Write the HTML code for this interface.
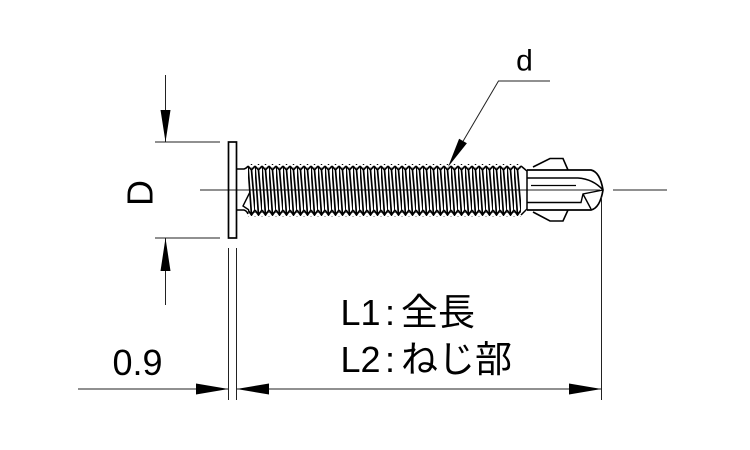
<!DOCTYPE html>
<html>
<head>
<meta charset="utf-8">
<style>
  html, body { margin: 0; padding: 0; background: #fff; }
  body { width: 750px; height: 450px; overflow: hidden; }
  svg { display: block; }
  .lat { font-family: "Liberation Sans", Arial, sans-serif; fill: #000; }
  .cjk { font-family: "Liberation Sans", "Noto Sans CJK JP", sans-serif; fill: #000; }
</style>
</head>
<body>
<svg width="750" height="450" viewBox="0 0 750 450" xmlns="http://www.w3.org/2000/svg">
  <defs>
    <pattern id="thr" patternUnits="userSpaceOnUse" x="248" y="165" width="7" height="51">
      <path d="M0 1 L3.5 5 L7 1 M0 45 L3.5 50 L7 45 M0 1 L3.5 50 M3.5 5 L7 45"
            stroke="#000" stroke-width="1.7" fill="none"/>
    </pattern>
  </defs>
  <rect width="750" height="450" fill="#fff"/>

  <!-- centerlines -->
  <line x1="200" y1="190" x2="600" y2="190" stroke="#222" stroke-width="0.9"/>
  <line x1="613" y1="190" x2="667" y2="190" stroke="#222" stroke-width="0.9"/>

  <!-- D dimension -->
  <line x1="155" y1="142" x2="220" y2="142" stroke="#222" stroke-width="1"/>
  <line x1="155" y1="238" x2="220" y2="238" stroke="#222" stroke-width="1"/>
  <line x1="165.5" y1="75" x2="165.5" y2="142" stroke="#222" stroke-width="1"/>
  <polygon points="165.5,142 160.5,110 170.5,110" fill="#000"/>
  <line x1="165.5" y1="238" x2="165.5" y2="305" stroke="#222" stroke-width="1"/>
  <polygon points="165.5,238 160.5,271 170.5,271" fill="#000"/>
  <text class="lat" font-size="36" text-anchor="middle" transform="translate(152.5,193) rotate(-90)">D</text>

  <!-- head -->
  <rect x="228.5" y="142" width="8" height="96" fill="none" stroke="#000" stroke-width="1.7"/>

  <!-- neck -->
  <path d="M237 169 L244 169 Q247 168 248 166" fill="none" stroke="#000" stroke-width="1.6"/>
  <path d="M237 210 L244 210 Q247 211 248 214" fill="none" stroke="#000" stroke-width="1.6"/>
  <path d="M250 192 L243 206 L249 210" fill="none" stroke="#000" stroke-width="1.4"/>

  <!-- thread -->
  <rect x="248" y="164" width="273" height="53" fill="url(#thr)"/>
  <line x1="248" y1="168" x2="521" y2="168" stroke="#000" stroke-width="0.6"/>
  <line x1="248" y1="212.5" x2="521" y2="212.5" stroke="#000" stroke-width="0.6"/>
  <path d="M521 166 L527 171 L527 209 L521 215" fill="none" stroke="#000" stroke-width="1.5"/>

  <!-- drill point -->
  <path d="M527 170 L591 170 Q600 172 603 190 Q600 208 591 210 L527 210" fill="none" stroke="#000" stroke-width="1.7"/>
  <path d="M527 178 L578 178 Q593 179 603 190" fill="none" stroke="#000" stroke-width="1.5"/>
  <line x1="531" y1="185.5" x2="576" y2="185.5" stroke="#000" stroke-width="1.3"/>
  <path d="M527 202.5 L581 202.5 L583 194 L603 190 M583 194 L591 209" fill="none" stroke="#000" stroke-width="1.4"/>
  <path d="M533 167 L550 158.5 L563 158.5 L568 170" fill="none" stroke="#000" stroke-width="1.6"/>
  <path d="M533 212 L550 221 L563 221 L568 210" fill="none" stroke="#000" stroke-width="1.6"/>

  <!-- d leader -->
  <polyline points="550,81 498.5,81 452,160" fill="none" stroke="#222" stroke-width="1"/>
  <polygon points="448,167 466.9,143.3 459.1,138.7" fill="#000"/>
  <text class="lat" x="524.5" y="70.5" font-size="30" text-anchor="middle">d</text>

  <!-- extension lines -->
  <line x1="228.5" y1="248" x2="228.5" y2="400" stroke="#222" stroke-width="1"/>
  <line x1="236.5" y1="248" x2="236.5" y2="400" stroke="#222" stroke-width="1"/>
  <line x1="601.5" y1="197" x2="601.5" y2="400" stroke="#222" stroke-width="1"/>

  <!-- bottom dimension line -->
  <line x1="78" y1="389" x2="228.5" y2="389" stroke="#222" stroke-width="1"/>
  <polygon points="228.5,389 196,383.5 196,394.5" fill="#000"/>
  <line x1="236.5" y1="389" x2="601.5" y2="389" stroke="#222" stroke-width="1"/>
  <polygon points="236.5,389 269,383.5 269,394.5" fill="#000"/>
  <polygon points="601.5,389 569,383.5 569,394.5" fill="#000"/>

  <text class="lat" x="137.5" y="375" font-size="36" text-anchor="middle">0.9</text>

  <!-- L1 / L2 labels -->
  <text class="lat" x="340.5" y="325" font-size="36">L1</text>
  <text class="lat" x="385" y="325" font-size="36">:</text>
  <text class="cjk" x="401" y="325" font-size="37">全長</text>

  <text class="lat" x="340.5" y="372" font-size="36">L2</text>
  <text class="lat" x="385" y="372" font-size="36">:</text>
  <text class="cjk" x="401" y="372" font-size="37">ねじ部</text>
</svg>
</body>
</html>
